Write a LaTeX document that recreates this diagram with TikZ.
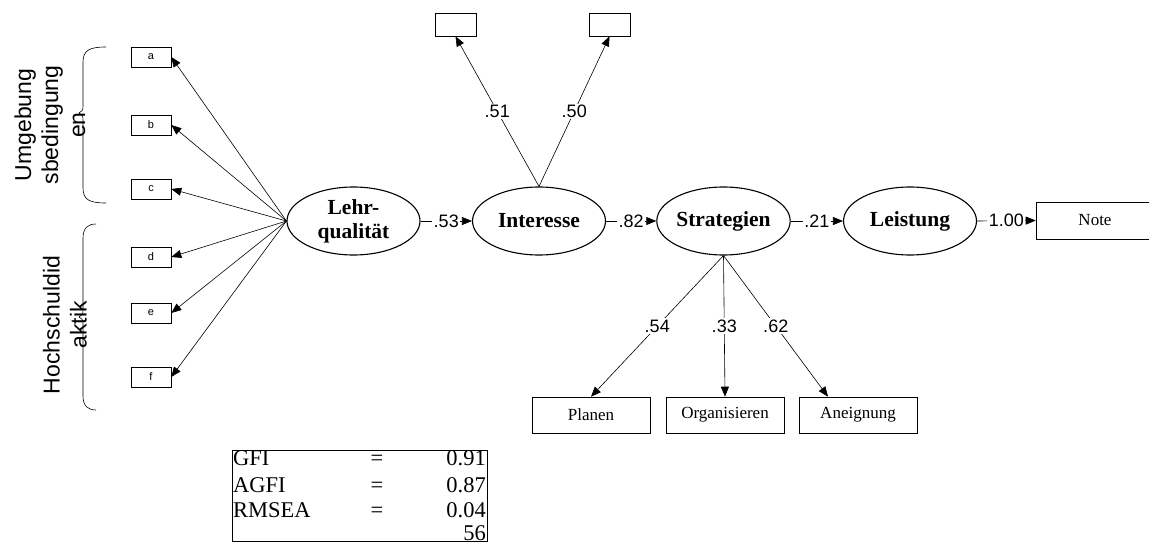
\documentclass[tikz,border=0pt]{standalone}
\usepackage{fontspec}
\setmainfont{Liberation Serif}
\newfontfamily\arialf{Liberation Sans}
\usetikzlibrary{arrows.meta,calc,shapes.geometric}
\begin{document}
\begin{tikzpicture}[x=1pt,y=-1pt,
  lat/.style={draw,ellipse,line width=1.1pt,minimum width=133pt,minimum height=68pt,inner sep=0pt,
    font=\fontsize{21.5}{24}\selectfont\bfseries,align=center},
  obs/.style={draw,line width=0.6pt,minimum width=118pt,minimum height=36pt,inner sep=0pt,
    font=\fontsize{17}{19}\selectfont},
  small/.style={draw,line width=0.6pt,minimum width=40pt,minimum height=20pt,inner sep=0pt,
    font=\arialf\fontsize{11}{12}\selectfont},
  empty/.style={draw,line width=0.6pt,minimum width=41pt,minimum height=23pt,inner sep=0pt},
  arr/.style={line width=0.6pt,-{Triangle[length=10pt,width=8pt]}},
  lbl/.style={fill=white,inner sep=1.5pt,font=\arialf\fontsize{18}{20}\selectfont},
  side/.style={rotate=90,align=center,font=\arialf\fontsize{23}{27}\selectfont},
  fit/.style={inner sep=0pt,font=\fontsize{22.5}{24}\selectfont}
]
\useasboundingbox (0,0) rectangle (1149,543);

% latent variables
\node[lat] (L) at (353.5,221) {Lehr-\\qualit\"at};
\node[lat] (I) at (539,221) {Interesse};
\node[lat] (S) at (723.5,221) {Strategien};
\node[lat] (E) at (910,221) {Leistung};
\node[obs,minimum height=37pt] (N) at (1095,220.5) {Note};

% small boxes
\node[small] (a) at (151,57) {a};
\node[small] (b) at (151,125) {b};
\node[small] (c) at (151,189) {c};
\node[small] (d) at (151,257) {d};
\node[small] (e) at (151,313) {e};
\node[small] (f) at (151,377) {f};
\foreach \n in {a,b,c,d,e,f}{\draw[arr] (L.west) -- (\n.east);}

% top boxes
\node[empty] (t1) at (455.5,24.5) {};
\node[empty] (t2) at (609.5,24.5) {};
\draw[arr] (I.north) -- node[lbl]{.51} (t1.south);
\draw[arr] (I.north) -- node[lbl]{.50} (t2.south);

% structural paths
\draw[arr] (L.east) -- node[lbl]{.53} (I.west);
\draw[arr] (I.east) -- node[lbl]{.82} (S.west);
\draw[arr] (S.east) -- node[lbl]{.21} (E.west);
\draw[arr] (E.east) -- node[lbl]{1.00} (N.west);

% bottom boxes
\node[obs] (P) at (591,415) {Planen};
\node[obs] (O) at (725,415) {Organisieren};
\node[obs] (A) at (858,415) {Aneignung};
\draw[arr] (S.south) -- node[lbl]{.54} (P.north);
\draw[arr] (S.south) -- node[lbl]{.33} (O.north);
\draw[arr] (S.south) -- node[lbl]{.62} ([xshift=-30pt]A.north);

% braces
\draw[line width=0.6pt] (106,47) .. controls (90,47) and (83,50) .. (83,62) -- (83,106)
  .. controls (83,110) and (82,112) .. (79,113) .. controls (82,114) and (83,116) .. (83,120)
  -- (83,188) .. controls (83,200) and (90,203) .. (106,203);
\draw[line width=0.6pt] (96,224) .. controls (88,224) and (83,228) .. (83,238) -- (83,310)
  .. controls (83,314) and (82,316) .. (79,317) .. controls (82,318) and (83,320) .. (83,324)
  -- (83,396) .. controls (83,406) and (88,410) .. (96,410);

\node[side] (u) at (50,125) {Umgebung\\sbedingung\\en};
\node[side] (h) at (65,325) {Hochschuldid\\aktik};

% fit table
\node[draw,line width=0.6pt,minimum width=255pt,minimum height=91pt,inner sep=0pt] (T) at (359.5,495.5) {};
\node[fit,anchor=base west] (g1) at (233,465) {GFI};
\node[fit,anchor=base] (g2) at (377,465) {=};
\node[fit,anchor=base east] (g3) at (486,465) {0.91};
\node[fit,anchor=base west] (h1) at (233,492) {AGFI};
\node[fit,anchor=base] (h2) at (377,492) {=};
\node[fit,anchor=base east] (h3) at (486,492) {0.87};
\node[fit,anchor=base west] (r1) at (233,517) {RMSEA};
\node[fit,anchor=base] (r2) at (377,517) {=};
\node[fit,anchor=base east] (r3) at (486,517) {0.04};
\node[fit,anchor=base east] (r4) at (486,540) {56};
\end{tikzpicture}
\end{document}
